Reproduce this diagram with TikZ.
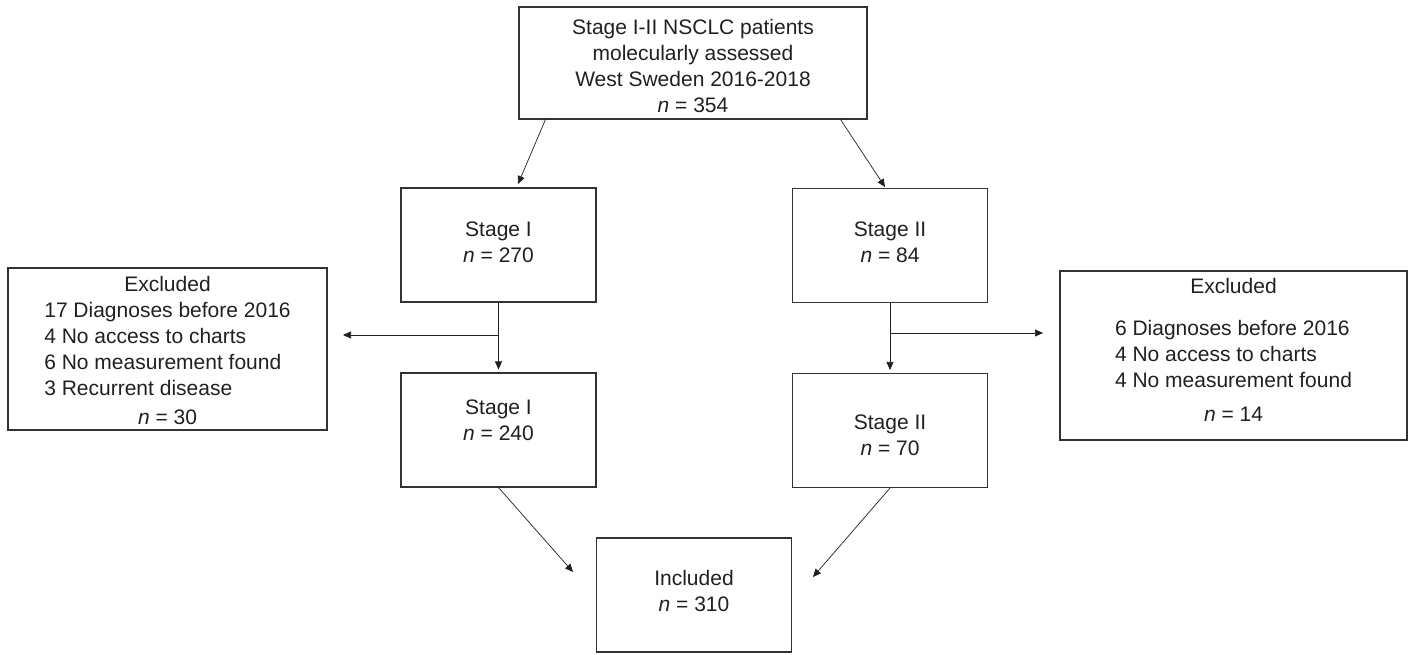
\documentclass[tikz,border=0pt]{standalone}
\usepackage{fontspec}
\setmainfont{Liberation Sans}
\usetikzlibrary{arrows.meta}
\definecolor{boxline}{HTML}{333333}
\definecolor{ink}{HTML}{231F20}
\tikzset{
  stagebox/.style={draw=boxline, line width=1.1pt, minimum width=195pt, minimum height=114pt, inner sep=0pt, align=center, text=ink},
  exclbox/.style={draw=boxline, line width=1.1pt, inner sep=0pt, text=ink},
  flow/.style={draw=ink, line width=0.7pt, -{Triangle[length=8pt,width=7pt]}},
  link/.style={draw=ink, line width=0.7pt}
}
\begin{document}
\begin{tikzpicture}[x=1pt, y=-1pt, font=\fontsize{21}{26}\selectfont]
\useasboundingbox (0,0) rectangle (1413,655);

\node [stagebox, minimum width=348pt, minimum height=112pt] (all) at (693,63) {\rule{0pt}{22pt}Stage I-II NSCLC patients\\molecularly assessed\\West Sweden 2016-2018\\\textit{n} = 354};

\node [stagebox] (st1)  at (498.5,245) {Stage I\\\textit{n} = 270\rule[-6pt]{0pt}{0pt}};
\node [stagebox] (st2)  at (890,245.5) {Stage II\\\textit{n} = 84\rule[-6pt]{0pt}{0pt}};
\node [stagebox] (st1b) at (498.5,430) {Stage I\\\textit{n} = 240\rule[-20pt]{0pt}{0pt}};
\node [stagebox] (st2b) at (890,430.5) {\rule{0pt}{24pt}Stage II\\\textit{n} = 70};
\node [stagebox] (incl) at (694,595)   {Included\\\textit{n} = 310\rule[-8pt]{0pt}{0pt}};

\node [exclbox, minimum width=319pt, minimum height=162pt] (exl) at (167.5,349) {\raisebox{-4pt}[\height][\depth]{\begin{tabular}{@{}l@{}}
  \multicolumn{1}{@{}c@{}}{Excluded}\\
  17 Diagnoses before 2016\\
  4 No access to charts\\
  6 No measurement found\\
  3 Recurrent disease\\[3pt]
  \multicolumn{1}{@{}c@{}}{\textit{n} = 30}
\end{tabular}}};

\node [exclbox, minimum width=347pt, minimum height=169pt] (exr) at (1233.5,355.5) {\begin{tabular}{@{}l@{}}
  \multicolumn{1}{@{}c@{}}{Excluded}\\[16pt]
  6 Diagnoses before 2016\\
  4 No access to charts\\
  4 No measurement found\\[8pt]
  \multicolumn{1}{@{}c@{}}{\textit{n} = 14}\\[6pt]
\end{tabular}};

% arrow ends and forks
\coordinate (st1in)   at (518,184);
\coordinate (st2in)   at (885,187);
\coordinate (st1fork) at (498.5,335);
\coordinate (st2fork) at (890,333);
\coordinate (exlin)   at (343,335);
\coordinate (exrin)   at (1043,333);
\coordinate (inclin1) at (573,572);
\coordinate (inclin2) at (813,577);

\draw [flow] ([xshift=27pt]all.south west) -- (st1in);
\draw [flow] ([xshift=-27pt]all.south east) -- (st2in);

\draw [link] (st1) -- (st1fork);
\draw [flow, shorten >=3pt] (st1fork) -- (st1b);
\draw [flow] (st1fork) -- (exlin);

\draw [link] (st2) -- (st2fork);
\draw [flow, shorten >=3pt] (st2fork) -- (st2b);
\draw [flow] (st2fork) -- (exrin);

\draw [flow] (st1b.south) -- (inclin1);
\draw [flow] (st2b.south) -- (inclin2);

\end{tikzpicture}
\end{document}
